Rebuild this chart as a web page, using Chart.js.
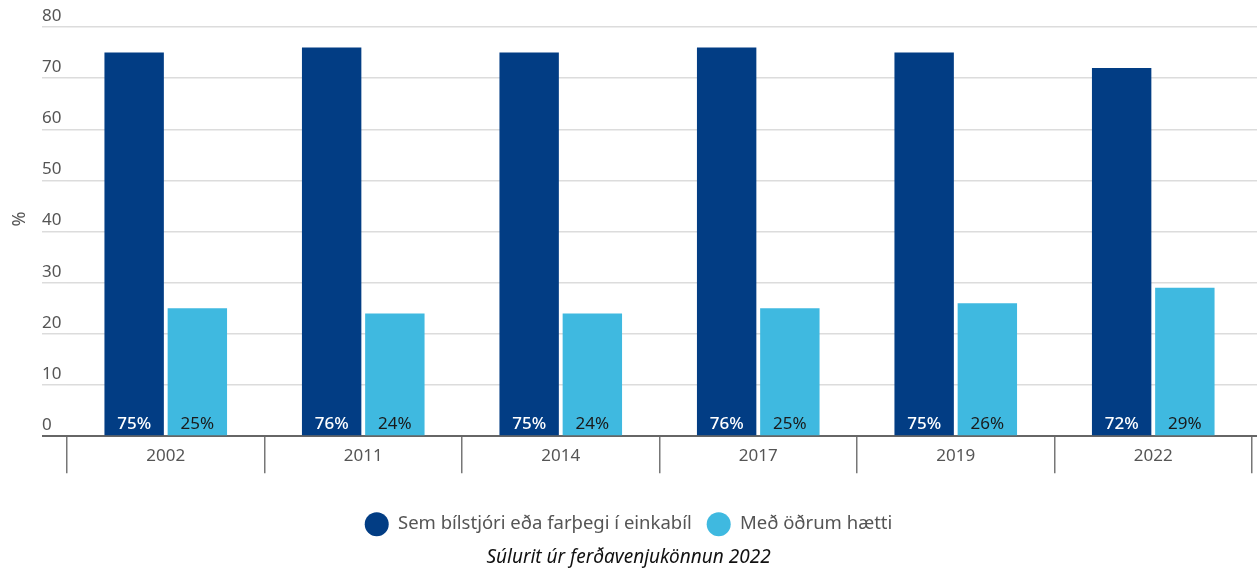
<!DOCTYPE html>
<html lang="is">
<head>
<meta charset="utf-8">
<script src="https://cdn.jsdelivr.net/npm/chart.js@4"></script>
<style>
  html, body { margin: 0; padding: 0; background: #fff; }
  #wrap { position: relative; width: 1257px; height: 569px; }
  #pct { position: absolute; left: 8px; top: 207px; font: 18px "Noto Sans", sans-serif; color: #555;
         transform: rotate(-90deg); transform-origin: center; width: 20px; text-align: center; }
</style>
</head>
<body>
<div id="wrap">
  <canvas id="c" width="1257" height="569"></canvas>
  <div id="pct">%</div>
</div>
<script>
const years  = ['2002', '2011', '2014', '2017', '2019', '2022'];
const car    = [75, 76, 75, 76, 75, 72];
const other  = [25, 24, 24, 25, 26, 29];
const labels = ['Sem bílstjóri eða farþegi í einkabíl', 'Með öðrum hætti'];
const yTicks = { min: 0, max: 80, step: 10 };

const FONT = '"Noto Sans", sans-serif';
const DARK = '#023d84', LIGHT = '#3fb9e0';

const gridColor = ctx => ctx.tick && ctx.tick.value === 0 ? '#666' : '#dcdcdc';
const gridWidth = ctx => ctx.tick && ctx.tick.value === 0 ? 2 : 1.5;

// value labels sitting at the bottom of each bar
const BarLabels = {
  id: 'barLabels',
  afterDatasetsDraw(chart) {
    const ctx = chart.ctx;
    ctx.save();
    ctx.textAlign = 'center';
    ctx.textBaseline = 'alphabetic';
    chart.data.datasets.forEach((ds, i) => {
      ctx.font = (i === 0 ? '500 ' : '') + '17px ' + FONT;
      ctx.fillStyle = i === 0 ? '#fff' : '#1a1a1a';
      chart.getDatasetMeta(i).data.forEach((bar, j) => {
        ctx.fillText(ds.data[j] + '%', bar.x, bar.base - 6);
      });
    });
    ctx.restore();
  }
};

new Chart(document.getElementById('c'), {
  type: 'bar',
  data: {
    labels: years,
    datasets: [
      { label: labels[0], data: car,   backgroundColor: DARK,  categoryPercentage: 0.64, barPercentage: 0.94 },
      { label: labels[1], data: other, backgroundColor: LIGHT, categoryPercentage: 0.64, barPercentage: 0.94 },
    ]
  },
  options: {
    responsive: false, animation: false,
    layout: { padding: { left: 0, right: 0, top: 27, bottom: 0 } },
    plugins: {
      legend: {
        position: 'bottom',
        labels: { useBorderRadius: true, borderRadius: 12, boxWidth: 24, boxHeight: 24, padding: 15,
                  color: '#555', font: { family: FONT, size: 18.5 } }
      },
      title: {
        display: true, position: 'bottom', text: 'Súlurit úr ferðavenjukönnun 2022',
        color: '#111', font: { family: FONT, size: 19, style: 'italic', weight: 'normal' }, padding: { top: 0, bottom: 0 }
      },
      tooltip: { enabled: false }
    },
    scales: {
      x: {
        afterFit(scale) { scale.height = 61; },
        grid: { offset: true, drawOnChartArea: false, tickLength: 37, color: '#777', lineWidth: 1.5 },
        border: { display: true, color: '#666', width: 2 },
        ticks: { color: '#555', padding: -27, font: { family: FONT, size: 17 } }
      },
      y: {
        min: yTicks.min, max: yTicks.max,
        afterFit(scale) { scale.width = 67; },
        grid: { color: gridColor, lineWidth: gridWidth, tickLength: 25 },
        border: { display: false },
        ticks: { stepSize: yTicks.step, mirror: true, labelOffset: -11, padding: -25, color: '#555',
                 font: { family: FONT, size: 17 } }
      },
      yRight: {
        position: 'right', min: yTicks.min, max: yTicks.max,
        afterFit(scale) { scale.width = 5; },
        grid: { drawOnChartArea: false, color: gridColor, lineWidth: gridWidth, tickLength: 5 },
        border: { display: false },
        ticks: { stepSize: yTicks.step, display: false }
      }
    }
  },
  plugins: [BarLabels]
});
</script>
</body>
</html>
